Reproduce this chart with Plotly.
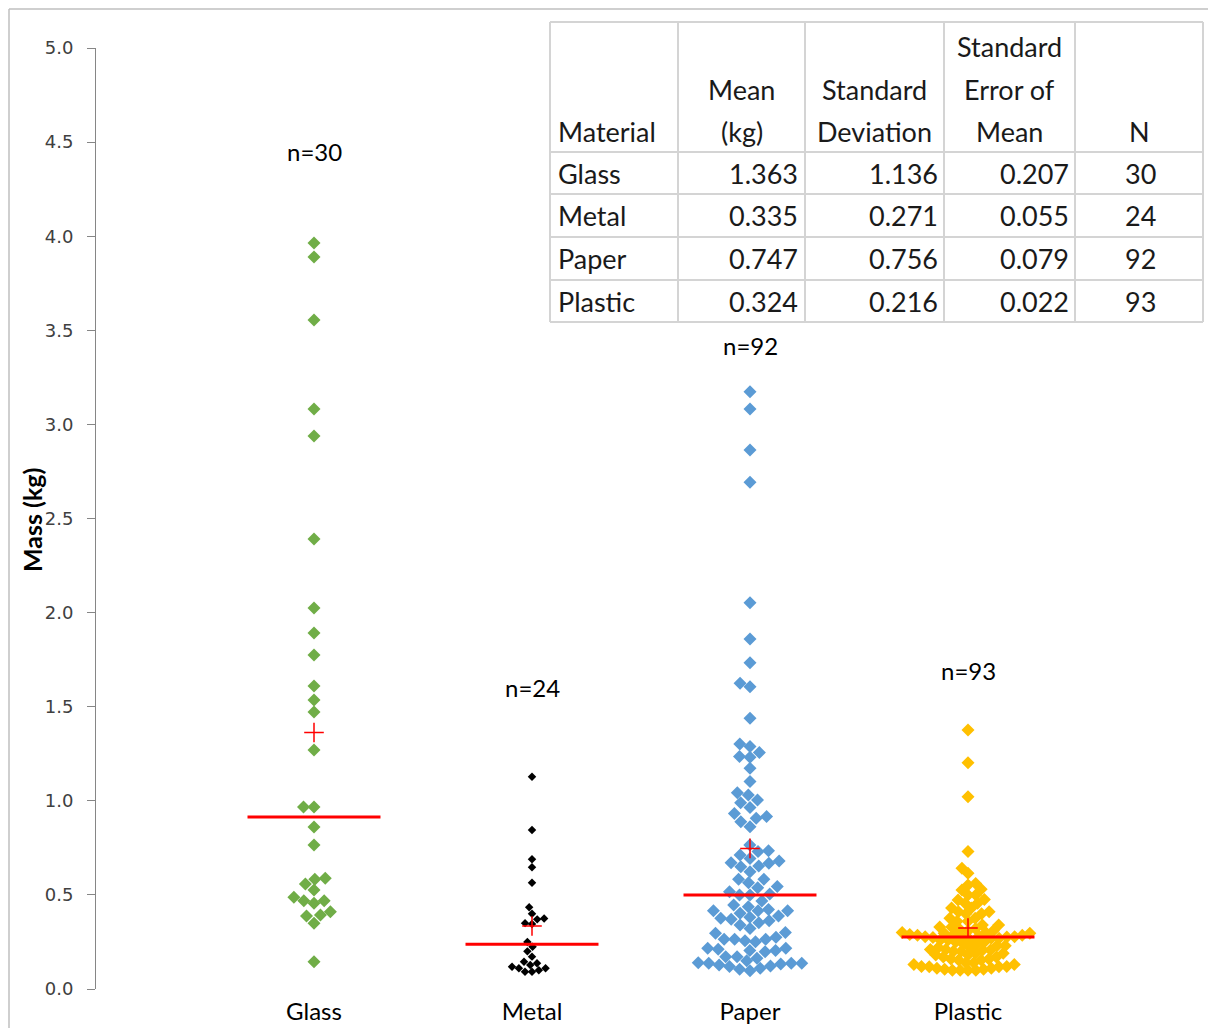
import numpy as np
import plotly.graph_objects as go

# ---------------- data ----------------
categories = ["Glass", "Metal", "Paper", "Plastic"]
colors = ["#70ad47", "#000000", "#5b9bd5", "#ffc000"]

glass = [3.964, 3.89, 3.555, 3.082, 2.938, 2.391, 2.024, 1.892, 1.775, 1.61,
         1.536, 1.472, 1.27, 0.967, 0.967, 0.861, 0.765, 0.588, 0.583, 0.558,
         0.526, 0.487, 0.469, 0.469, 0.455, 0.411, 0.393, 0.388, 0.349, 0.145]

metal = [1.128, 0.845, 0.689, 0.647, 0.565, 0.434, 0.40, 0.375, 0.37, 0.35,
         0.345, 0.25, 0.225, 0.20, 0.172, 0.145, 0.137, 0.128, 0.118, 0.11,
         0.11, 0.10, 0.092, 0.092]

paper = [3.174, 3.082, 2.864, 2.692, 2.053, 1.860, 1.734, 1.624, 1.606,
         1.438, 1.302, 1.288, 1.256, 1.235, 1.231, 1.173, 1.102, 1.043, 1.031,
         1.004, 0.990, 0.965, 0.933, 0.916, 0.907, 0.889, 0.862,
         0.765, 0.735, 0.730, 0.712, 0.694, 0.680, 0.671, 0.668, 0.654, 0.650,
         0.623, 0.583, 0.583, 0.565, 0.544, 0.538, 0.517, 0.505, 0.500, 0.500,
         0.468, 0.446, 0.437, 0.423, 0.416, 0.416, 0.416, 0.402, 0.388, 0.381,
         0.376, 0.370, 0.363, 0.352, 0.340, 0.322, 0.300, 0.296, 0.275, 0.264,
         0.264, 0.264, 0.257, 0.251, 0.216, 0.216, 0.211, 0.204, 0.204, 0.198,
         0.172, 0.172, 0.163, 0.150, 0.140, 0.137, 0.137, 0.137, 0.133, 0.128,
         0.122, 0.120, 0.110, 0.105, 0.097]

plastic = [1.376, 1.202, 1.022, 0.730, 0.641, 0.615,
           0.56, 0.553, 0.53, 0.526, 0.50, 0.50, 0.475, 0.473,
           0.455, 0.455, 0.43, 0.43, 0.41, 0.41, 0.40, 0.40,
           0.376, 0.376, 0.36, 0.36, 0.34, 0.34, 0.33, 0.33, 0.32, 0.32,
           0.31, 0.31, 0.30, 0.30, 0.296, 0.296, 0.29, 0.29, 0.285, 0.285,
           0.28, 0.28, 0.278, 0.278,
           0.276, 0.274, 0.27, 0.27, 0.265, 0.26, 0.26, 0.25, 0.25, 0.24, 0.24,
           0.23, 0.23, 0.22, 0.22, 0.21, 0.21, 0.207, 0.207, 0.20, 0.20,
           0.19, 0.19, 0.18, 0.18, 0.17, 0.17, 0.16, 0.16, 0.154, 0.154,
           0.14, 0.14, 0.13, 0.13, 0.12, 0.12, 0.118, 0.118, 0.11, 0.11,
           0.105, 0.105, 0.10, 0.10, 0.10, 0.10]

series = [glass, metal, paper, plastic]

# summary table
table_header = [["Material"], ["Mean", "(kg)"], ["Standard", "Deviation"],
                ["Standard", "Error of", "Mean"], ["N"]]
means = [1.363, 0.335, 0.747, 0.324]
sds = [1.136, 0.271, 0.756, 0.216]
sems = [0.207, 0.055, 0.079, 0.022]
ns = [30, 24, 92, 93]

y_ticks = [0.0, 0.5, 1.0, 1.5, 2.0, 2.5, 3.0, 3.5, 4.0, 4.5, 5.0]
n_label_y = [4.45, 1.6, 3.42, 1.69]

# ---------------- layout geometry ----------------
FIG_W, FIG_H = 1208, 1028
L, R, T, B = 96, 22, 48, 39
PW, PH = FIG_W - L - R, FIG_H - T - B
X_RANGE = (0, 5)
Y_RANGE = (0, 5)
PX_PER_X = PW / (X_RANGE[1] - X_RANGE[0])
PX_PER_Y = PH / (Y_RANGE[1] - Y_RANGE[0])


def px(x):
    """screen x pixel -> paper coordinate"""
    return (x - L) / PW


def py(y):
    """screen y pixel -> paper coordinate"""
    return (FIG_H - B - y) / PH


def swarm(vals, d):
    """Simple beeswarm: returns x offsets (pixels) for values."""
    order = np.argsort(vals)
    placed = []
    offs = np.zeros(len(vals))
    for i in order:
        y = vals[i] * PX_PER_Y
        cands = [0.0]
        for (xx, yy) in placed:
            dy = abs(yy - y)
            if dy < d:
                dx = np.sqrt(d * d - dy * dy)
                cands += [xx + dx, xx - dx]
        cands.sort(key=lambda c: (abs(c), c))
        chosen = 0.0
        for c in cands:
            if all((c - xx) ** 2 + (y - yy) ** 2 >= d * d - 1e-6 for (xx, yy) in placed):
                chosen = c
                break
        placed.append((chosen, y))
        offs[i] = chosen
    return offs


fig = go.Figure()

spacing = [10.5, 7, 10.5, 7.8]
msize = [10, 6.5, 10, 10]

for k, (name, vals, col) in enumerate(zip(categories, series, colors)):
    vals = np.array(vals, dtype=float)
    offs = swarm(vals, spacing[k]) / PX_PER_X
    xc = k + 1
    fig.add_trace(go.Scatter(
        x=xc + offs, y=vals, mode="markers",
        marker=dict(symbol="diamond", size=msize[k], color=col, line=dict(width=0)),
        showlegend=False, hoverinfo="y"))
    med = float(np.median(vals))
    fig.add_trace(go.Scatter(
        x=[xc - 0.305, xc + 0.305], y=[med, med], mode="lines",
        line=dict(color="#ff0000", width=3), showlegend=False, hoverinfo="skip"))
    fig.add_trace(go.Scatter(
        x=[xc], y=[means[k]], mode="markers",
        marker=dict(symbol="cross-thin", size=14, line=dict(color="#ff0000", width=1.5)),
        showlegend=False, hoverinfo="skip"))
    fig.add_annotation(x=xc, y=n_label_y[k], xref="x", yref="y",
                       text=f"n={len(vals)}", showarrow=False,
                       font=dict(family="Lato", size=24, color="#000000"))

# ---------------- table ----------------
col_edges = [550, 678, 805, 944, 1075, 1203]
row_edges = [22, 152, 194, 237, 280, 322]
grid_col = "#d4d4d4"
shapes = []
for xe in col_edges:
    shapes.append(dict(type="line", xref="paper", yref="paper",
                       x0=px(xe), x1=px(xe), y0=py(row_edges[0]), y1=py(row_edges[-1]),
                       line=dict(color=grid_col, width=2)))
for ye in row_edges:
    shapes.append(dict(type="line", xref="paper", yref="paper",
                       x0=px(col_edges[0]), x1=px(col_edges[-1]), y0=py(ye), y1=py(ye),
                       line=dict(color=grid_col, width=2)))
# chart-area border (top and left)
shapes.append(dict(type="line", xref="paper", yref="paper",
                   x0=px(9), x1=px(1300), y0=py(9), y1=py(9),
                   line=dict(color="#bfbfbf", width=1.5)))
shapes.append(dict(type="line", xref="paper", yref="paper",
                   x0=px(9), x1=px(9), y0=py(9), y1=py(1100),
                   line=dict(color="#bfbfbf", width=1.5)))

tfont = dict(family="Lato", size=27, color="#1a1a1a")
line_y = [46, 89, 131]          # header line centres (screen px)
hdr_x = [556, 741.5, 874.5, 1009.5, 1139]
hdr_anchor = ["left", "center", "center", "center", "center"]
for j, lines in enumerate(table_header):
    for m, txt in enumerate(lines):
        yy = line_y[len(line_y) - len(lines) + m]
        fig.add_annotation(x=px(hdr_x[j]), y=py(yy), xref="paper", yref="paper",
                           text=txt, showarrow=False, xanchor=hdr_anchor[j],
                           yanchor="middle", font=tfont)
# rows
for i in range(4):
    yc = py((row_edges[i + 1] + row_edges[i + 2]) / 2)
    cells = [(categories[i], 556, "left"),
             (f"{means[i]:.3f}", 800, "right"),
             (f"{sds[i]:.3f}", 940, "right"),
             (f"{sems[i]:.3f}", 1071, "right"),
             (f"{ns[i]}", 1140, "center")]
    for txt, xx, anc in cells:
        fig.add_annotation(x=px(xx), y=yc, xref="paper", yref="paper", text=txt,
                           showarrow=False, xanchor=anc, yanchor="middle", font=tfont)

# y-axis title
fig.add_annotation(x=px(32), y=py(520), xref="paper", yref="paper",
                   text="<b>Mass (kg)</b>", textangle=-90, showarrow=False,
                   xanchor="center", yanchor="middle",
                   font=dict(family="Lato", size=25, color="#000000"))

fig.update_layout(
    width=FIG_W, height=FIG_H,
    margin=dict(l=L, r=R, t=T, b=B, pad=0, autoexpand=False),
    paper_bgcolor="white", plot_bgcolor="white",
    shapes=shapes,
    xaxis=dict(range=list(X_RANGE), tickvals=[1, 2, 3, 4], ticktext=categories,
               showgrid=False, zeroline=False, showline=False, ticks="",
               automargin=False, ticklabelstandoff=6,
               tickfont=dict(family="Lato", size=24, color="#000000")),
    yaxis=dict(range=list(Y_RANGE), tickvals=y_ticks,
               ticktext=[f"{v:.1f}" for v in y_ticks],
               showgrid=False, zeroline=False, showline=True, automargin=False,
               linecolor="#868686", linewidth=1, ticks="outside", ticklen=8,
               tickcolor="#868686", ticklabelstandoff=10,
               tickfont=dict(family="DejaVu Sans", size=18, color="#404040")),
)

fig.write_html("out.html",
               config={"displayModeBar": False},
               post_script="document.body.style.margin='0';"
                           "document.body.style.overflow='hidden';")
